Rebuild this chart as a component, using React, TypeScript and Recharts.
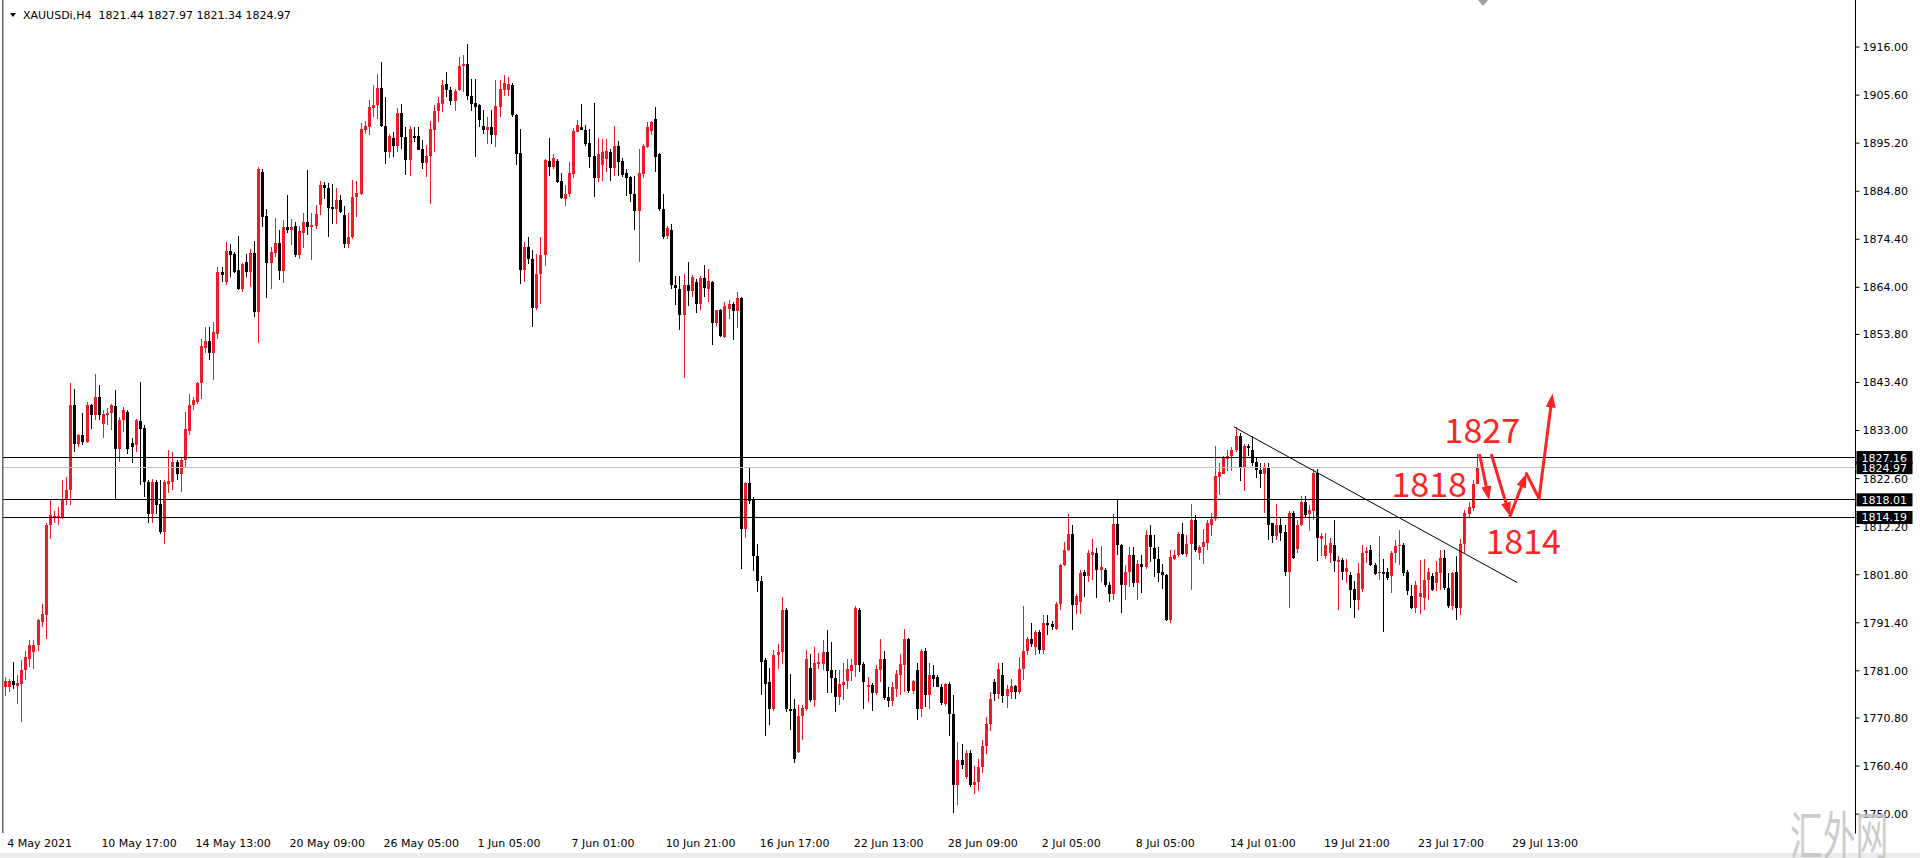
import { Bar, ComposedChart, ReferenceDot, ReferenceLine, XAxis, YAxis } from "recharts";

// XAUUSDi H4 candles (oldest first)
const opens = [
  1777.5, 1777.5, 1778.9, 1777.8, 1778.2, 1781.1, 1783.6, 1785.1, 1786.5, 1791.6,
  1793.0, 1812.5, 1814.4, 1814.2, 1814.3, 1817.9, 1820.1, 1838.5, 1830.2, 1832.1,
  1830.5, 1838.5, 1836.3, 1840.3, 1834.5, 1836.3, 1836.7, 1838.3, 1829.1, 1835.2,
  1837.0, 1830.3, 1829.8, 1835.0, 1833.6, 1821.9, 1815.0, 1821.9, 1817.0, 1811.1,
  1821.5, 1821.9, 1826.2, 1823.7, 1826.6, 1833.0, 1838.5, 1839.2, 1843.2, 1850.8,
  1852.4, 1849.7, 1854.0, 1867.4, 1865.2, 1871.8, 1871.3, 1867.7, 1863.7, 1869.5,
  1867.4, 1871.5, 1858.6, 1889.0, 1879.4, 1869.2, 1871.5, 1873.6, 1867.6, 1877.1,
  1876.4, 1877.2, 1871.0, 1875.8, 1878.2, 1877.0, 1877.2, 1881.8, 1886.1, 1885.6,
  1881.4, 1880.9, 1883.0, 1879.6, 1873.3, 1874.8, 1883.5, 1884.2, 1898.0, 1898.7,
  1902.9, 1903.4, 1907.2, 1899.0, 1893.3, 1896.4, 1894.5, 1901.7, 1896.5, 1891.6,
  1896.7, 1896.7, 1894.0, 1890.9, 1892.5, 1898.1, 1902.1, 1903.7, 1907.9, 1906.8,
  1904.3, 1906.8, 1911.8, 1912.3, 1905.5, 1903.9, 1903.4, 1899.0, 1898.1, 1898.7,
  1896.9, 1903.0, 1906.8, 1906.8, 1907.7, 1901.4, 1893.0, 1867.8, 1872.7, 1870.2,
  1859.6, 1866.9, 1870.9, 1891.4, 1890.1, 1891.4, 1887.1, 1883.2, 1884.1, 1888.5,
  1897.7, 1898.6, 1898.1, 1895.3, 1892.5, 1887.6, 1890.4, 1891.8, 1893.2, 1889.9,
  1894.6, 1891.4, 1888.8, 1887.9, 1884.3, 1880.6, 1888.5, 1894.4, 1897.9, 1900.5,
  1892.8, 1881.0, 1875.1, 1876.3, 1864.6, 1863.7, 1858.0, 1864.6, 1863.2, 1865.1,
  1860.4, 1866.0, 1863.7, 1865.1, 1856.3, 1859.0, 1853.3, 1859.4, 1860.4, 1858.8,
  1861.6, 1811.6, 1821.6, 1818.1, 1805.9, 1800.5, 1783.3, 1778.6, 1772.8, 1784.4,
  1785.1, 1794.1, 1772.8, 1772.8, 1763.4, 1771.2, 1772.8, 1781.7, 1774.7, 1782.4,
  1782.5, 1785.1, 1781.1, 1779.5, 1775.3, 1777.9, 1778.9, 1781.0, 1782.2, 1794.1,
  1782.5, 1777.4, 1777.9, 1776.2, 1781.1, 1783.5, 1775.3, 1774.5, 1777.1, 1780.2,
  1782.2, 1788.0, 1776.6, 1781.1, 1772.8, 1785.4, 1775.7, 1780.0, 1779.7, 1777.5,
  1773.9, 1778.1, 1771.7, 1756.2, 1761.6, 1758.0, 1763.2, 1756.4, 1756.9, 1760.2,
  1764.8, 1769.5, 1778.6, 1776.0, 1780.0, 1775.5, 1776.5, 1777.7, 1776.5, 1781.5,
  1785.4, 1787.8, 1786.2, 1789.4, 1785.6, 1791.4, 1791.1, 1790.1, 1795.4, 1803.8,
  1807.2, 1810.7, 1795.2, 1795.9, 1802.4, 1801.5, 1806.0, 1806.5, 1802.8, 1802.8,
  1799.5, 1797.7, 1812.7, 1808.2, 1799.5, 1802.4, 1806.0, 1800.0, 1804.2, 1803.5,
  1810.3, 1807.5, 1805.3, 1802.4, 1801.7, 1791.9, 1805.3, 1806.0, 1810.7, 1806.2,
  1808.4, 1813.7, 1806.5, 1807.7, 1808.7, 1812.6, 1813.9, 1822.9, 1823.7, 1826.9,
  1827.4, 1828.9, 1831.9, 1824.9, 1829.6, 1828.9, 1826.1, 1824.4, 1823.7, 1824.9,
  1812.9, 1810.1, 1812.6, 1811.0, 1802.5, 1815.2, 1807.4, 1812.6, 1817.5, 1815.0,
  1815.7, 1823.8, 1809.5, 1805.8, 1806.6, 1808.3, 1804.5, 1804.9, 1802.3, 1801.8,
  1798.7, 1796.4, 1798.7, 1806.5, 1807.1, 1803.8, 1802.2, 1802.3, 1802.5, 1801.5,
  1806.4, 1808.0, 1808.3, 1802.5, 1797.1, 1794.6, 1796.9, 1796.8, 1800.6, 1801.6,
  1800.0, 1802.2, 1805.4, 1798.9, 1795.0, 1802.5, 1794.6, 1808.5, 1815.0, 1816.2,
  1821.44,
];

const highs = [
  1779.6, 1779.3, 1783.0, 1780.0, 1783.3, 1785.4, 1787.6, 1787.6, 1792.3, 1795.5,
  1812.9, 1817.9, 1815.7, 1816.5, 1822.2, 1822.9, 1843.2, 1842.1, 1832.3, 1836.7,
  1839.2, 1838.8, 1845.3, 1842.8, 1837.4, 1837.8, 1838.8, 1841.7, 1835.9, 1838.1,
  1837.4, 1831.3, 1835.6, 1843.5, 1834.1, 1822.2, 1822.6, 1822.2, 1822.2, 1822.2,
  1828.7, 1828.4, 1826.6, 1827.3, 1837.0, 1841.0, 1840.3, 1843.5, 1852.9, 1855.4,
  1855.4, 1856.5, 1868.4, 1868.4, 1873.9, 1873.3, 1871.7, 1875.1, 1869.3, 1871.3,
  1872.4, 1874.1, 1890.1, 1889.7, 1880.9, 1872.8, 1879.1, 1876.4, 1878.5, 1884.0,
  1878.7, 1878.2, 1877.2, 1880.0, 1889.4, 1880.0, 1881.8, 1887.0, 1886.8, 1886.5,
  1886.3, 1885.4, 1884.0, 1881.6, 1880.1, 1887.2, 1887.1, 1899.5, 1900.1, 1904.5,
  1907.7, 1910.2, 1912.8, 1905.2, 1897.2, 1897.6, 1902.7, 1903.7, 1898.8, 1899.0,
  1898.8, 1898.8, 1895.8, 1894.9, 1900.1, 1903.4, 1905.2, 1908.9, 1910.6, 1907.3,
  1907.0, 1913.8, 1914.2, 1916.7, 1909.1, 1909.1, 1903.7, 1902.3, 1900.8, 1902.3,
  1908.8, 1908.8, 1909.9, 1909.5, 1908.2, 1901.6, 1898.3, 1873.8, 1874.9, 1872.0,
  1871.3, 1874.9, 1891.8, 1896.3, 1892.8, 1891.8, 1888.8, 1886.2, 1891.1, 1898.4,
  1900.3, 1903.6, 1899.1, 1898.2, 1903.8, 1896.3, 1896.0, 1896.0, 1893.9, 1898.9,
  1895.6, 1892.0, 1889.5, 1888.1, 1888.1, 1893.9, 1895.1, 1899.8, 1900.1, 1903.1,
  1893.0, 1884.3, 1877.3, 1877.7, 1866.5, 1866.5, 1866.9, 1869.5, 1866.7, 1865.7,
  1866.5, 1868.8, 1867.9, 1865.4, 1859.2, 1859.4, 1860.8, 1861.3, 1860.8, 1862.9,
  1861.8, 1821.9, 1825.2, 1818.6, 1808.5, 1801.5, 1783.8, 1781.7, 1785.6, 1786.9,
  1797.0, 1794.7, 1780.4, 1775.0, 1773.7, 1773.7, 1785.6, 1784.7, 1786.2, 1784.9,
  1787.6, 1789.9, 1787.2, 1781.1, 1781.1, 1782.7, 1783.6, 1783.6, 1795.0, 1794.7,
  1783.0, 1779.7, 1778.4, 1782.2, 1787.8, 1785.3, 1777.5, 1778.6, 1781.1, 1784.7,
  1790.1, 1788.2, 1779.1, 1782.7, 1785.8, 1786.0, 1782.7, 1782.2, 1780.0, 1778.2,
  1778.4, 1778.6, 1775.7, 1765.6, 1765.2, 1763.8, 1763.8, 1760.5, 1762.0, 1766.0,
  1771.0, 1776.5, 1779.2, 1782.7, 1782.7, 1778.0, 1779.2, 1778.0, 1784.0, 1795.0,
  1788.3, 1791.4, 1789.8, 1789.8, 1793.0, 1793.0, 1791.8, 1795.9, 1804.2, 1808.9,
  1814.9, 1812.5, 1797.7, 1802.8, 1802.8, 1807.2, 1809.6, 1807.5, 1808.0, 1803.3,
  1800.2, 1814.9, 1818.1, 1808.5, 1803.9, 1807.8, 1807.8, 1804.9, 1806.0, 1811.4,
  1812.5, 1810.3, 1807.8, 1804.2, 1802.0, 1807.1, 1807.2, 1811.1, 1812.9, 1810.3,
  1817.1, 1814.7, 1808.2, 1811.6, 1813.7, 1815.2, 1829.6, 1826.0, 1827.6, 1828.9,
  1829.5, 1833.8, 1832.5, 1830.0, 1830.0, 1831.9, 1827.1, 1826.0, 1826.0, 1826.0,
  1813.1, 1817.0, 1814.4, 1812.6, 1815.5, 1815.5, 1813.7, 1818.8, 1818.9, 1816.8,
  1824.7, 1824.6, 1810.8, 1810.8, 1809.8, 1813.6, 1805.8, 1805.4, 1805.1, 1802.5,
  1800.4, 1804.3, 1808.3, 1807.9, 1808.3, 1804.3, 1810.1, 1805.1, 1803.2, 1806.9,
  1809.4, 1811.4, 1808.7, 1802.9, 1799.6, 1800.4, 1804.9, 1805.1, 1803.2, 1802.2,
  1804.7, 1807.2, 1807.2, 1802.2, 1802.5, 1805.8, 1809.5, 1815.9, 1817.5, 1822.4,
  1827.97,
];

const lows = [
  1775.5, 1776.4, 1777.1, 1773.9, 1769.9, 1779.0, 1781.8, 1781.4, 1785.4, 1790.5,
  1788.0, 1809.6, 1812.9, 1812.5, 1813.9, 1816.8, 1816.8, 1828.4, 1829.5, 1829.8,
  1830.3, 1833.4, 1835.2, 1835.2, 1831.3, 1834.1, 1833.1, 1817.9, 1826.2, 1832.7,
  1828.0, 1825.9, 1828.4, 1821.2, 1818.6, 1812.9, 1812.9, 1815.0, 1810.7, 1808.5,
  1819.4, 1820.1, 1822.2, 1819.7, 1824.8, 1832.0, 1837.4, 1838.8, 1839.9, 1849.7,
  1848.2, 1843.9, 1852.9, 1865.2, 1864.5, 1866.3, 1867.0, 1863.4, 1863.0, 1866.3,
  1864.1, 1857.6, 1852.0, 1877.1, 1861.7, 1863.7, 1870.6, 1865.6, 1865.0, 1875.8,
  1873.1, 1870.6, 1870.2, 1872.6, 1875.3, 1870.0, 1876.7, 1879.6, 1883.2, 1874.9,
  1877.8, 1877.8, 1880.1, 1872.6, 1872.6, 1874.4, 1879.3, 1884.0, 1897.2, 1896.9,
  1900.8, 1900.5, 1898.7, 1890.6, 1892.0, 1892.2, 1893.3, 1894.0, 1888.2, 1888.0,
  1895.4, 1893.8, 1889.6, 1887.9, 1882.1, 1893.3, 1899.8, 1901.9, 1905.2, 1903.4,
  1902.1, 1906.5, 1906.3, 1904.5, 1902.1, 1892.2, 1898.7, 1897.2, 1895.1, 1895.1,
  1894.4, 1900.8, 1905.5, 1905.5, 1900.8, 1890.4, 1864.8, 1865.1, 1869.1, 1855.4,
  1859.0, 1860.4, 1868.7, 1888.1, 1889.5, 1886.6, 1883.2, 1881.5, 1883.6, 1887.6,
  1897.6, 1898.0, 1894.6, 1889.8, 1883.6, 1886.7, 1887.1, 1889.0, 1887.1, 1888.1,
  1888.1, 1887.9, 1883.8, 1882.4, 1876.3, 1869.5, 1887.6, 1894.2, 1897.0, 1889.0,
  1880.6, 1874.5, 1874.5, 1863.7, 1860.1, 1854.7, 1844.4, 1859.9, 1861.8, 1858.5,
  1859.0, 1861.8, 1860.9, 1851.5, 1855.7, 1853.3, 1853.1, 1857.1, 1852.6, 1855.2,
  1803.1, 1809.7, 1817.2, 1802.6, 1798.0, 1775.7, 1767.0, 1769.2, 1772.4, 1781.3,
  1782.5, 1772.1, 1768.1, 1761.0, 1763.2, 1766.0, 1772.4, 1774.2, 1773.2, 1781.5,
  1781.1, 1776.1, 1776.1, 1772.1, 1773.7, 1774.7, 1777.1, 1778.9, 1779.7, 1780.7,
  1772.8, 1774.2, 1772.4, 1775.7, 1778.6, 1774.6, 1773.2, 1773.3, 1775.3, 1775.7,
  1776.4, 1776.1, 1776.0, 1770.4, 1771.0, 1773.2, 1772.8, 1777.5, 1777.4, 1773.7,
  1773.5, 1767.0, 1750.2, 1751.9, 1759.8, 1757.5, 1755.8, 1754.4, 1755.0, 1758.8,
  1763.0, 1768.0, 1774.5, 1775.0, 1774.0, 1773.0, 1775.0, 1774.8, 1776.0, 1779.0,
  1784.5, 1786.2, 1784.4, 1784.7, 1784.6, 1788.7, 1789.8, 1789.8, 1794.1, 1803.6,
  1806.9, 1789.8, 1793.4, 1793.4, 1797.0, 1800.2, 1800.6, 1796.8, 1800.2, 1799.2,
  1795.9, 1796.3, 1806.0, 1793.5, 1796.3, 1799.2, 1799.2, 1796.3, 1797.9, 1803.1,
  1804.6, 1801.3, 1800.2, 1798.8, 1791.8, 1791.4, 1804.9, 1805.7, 1806.0, 1805.7,
  1798.4, 1806.7, 1804.9, 1804.2, 1807.2, 1810.1, 1813.4, 1819.1, 1823.5, 1824.2,
  1824.2, 1828.3, 1822.0, 1819.9, 1827.4, 1825.3, 1822.7, 1820.6, 1815.2, 1809.4,
  1808.7, 1809.4, 1809.0, 1801.5, 1794.6, 1805.1, 1806.5, 1812.3, 1814.4, 1811.2,
  1813.7, 1804.7, 1805.8, 1805.1, 1804.3, 1802.5, 1794.2, 1800.7, 1800.0, 1794.6,
  1792.4, 1794.2, 1798.0, 1804.3, 1803.6, 1801.8, 1800.7, 1789.3, 1800.7, 1797.8,
  1804.3, 1804.0, 1801.5, 1797.5, 1794.4, 1793.5, 1793.4, 1794.2, 1796.4, 1798.2,
  1798.2, 1798.6, 1798.6, 1794.6, 1794.2, 1792.1, 1793.0, 1806.5, 1814.0, 1815.5,
  1821.34,
];

const closes = [
  1778.7, 1778.9, 1777.9, 1778.3, 1781.1, 1784.0, 1786.5, 1786.5, 1791.9, 1793.2,
  1812.5, 1814.7, 1814.5, 1814.5, 1817.9, 1820.1, 1838.5, 1830.2, 1832.0, 1830.5,
  1838.5, 1836.3, 1840.3, 1836.3, 1836.5, 1836.8, 1838.5, 1829.1, 1835.2, 1837.4,
  1829.1, 1829.5, 1835.2, 1833.4, 1821.9, 1815.0, 1821.9, 1816.8, 1811.1, 1821.9,
  1822.0, 1826.3, 1823.7, 1826.6, 1833.3, 1838.5, 1839.6, 1843.2, 1851.2, 1852.4,
  1849.7, 1854.4, 1867.4, 1866.6, 1871.8, 1871.0, 1867.4, 1863.7, 1869.0, 1867.4,
  1871.5, 1858.6, 1889.5, 1879.3, 1869.2, 1871.7, 1873.6, 1867.6, 1877.1, 1876.4,
  1877.1, 1871.0, 1876.1, 1878.2, 1877.0, 1877.5, 1879.8, 1886.1, 1885.4, 1881.1,
  1880.9, 1883.0, 1880.4, 1873.3, 1874.9, 1883.6, 1884.5, 1898.2, 1899.0, 1903.0,
  1903.4, 1907.2, 1899.0, 1893.3, 1896.7, 1894.5, 1901.7, 1896.5, 1891.6, 1898.3,
  1896.4, 1893.8, 1890.9, 1892.5, 1898.3, 1902.1, 1903.9, 1907.7, 1906.8, 1904.3,
  1906.5, 1912.0, 1912.4, 1905.5, 1903.7, 1903.0, 1900.3, 1898.0, 1898.7, 1896.9,
  1903.2, 1907.0, 1908.2, 1908.1, 1901.2, 1892.9, 1867.8, 1872.7, 1870.2, 1859.6,
  1866.9, 1870.9, 1891.5, 1890.1, 1892.0, 1886.9, 1883.4, 1884.3, 1888.8, 1897.9,
  1899.1, 1898.0, 1895.1, 1892.3, 1887.6, 1892.8, 1893.2, 1893.5, 1889.8, 1894.6,
  1891.1, 1888.3, 1887.6, 1884.1, 1880.6, 1888.8, 1894.6, 1898.6, 1899.8, 1892.3,
  1881.0, 1874.9, 1876.8, 1864.6, 1863.8, 1858.0, 1864.4, 1863.2, 1866.3, 1860.4,
  1866.0, 1863.8, 1865.4, 1856.3, 1859.0, 1853.5, 1859.9, 1860.4, 1858.8, 1861.6,
  1811.7, 1821.6, 1817.7, 1805.9, 1800.5, 1782.9, 1778.2, 1772.8, 1784.4, 1785.1,
  1794.1, 1772.8, 1772.4, 1762.0, 1771.2, 1773.0, 1783.6, 1774.7, 1782.7, 1782.9,
  1785.1, 1781.0, 1779.5, 1775.3, 1778.2, 1778.6, 1781.5, 1782.2, 1794.5, 1782.2,
  1778.6, 1777.9, 1776.2, 1781.5, 1783.5, 1775.2, 1774.5, 1777.5, 1780.4, 1782.4,
  1788.0, 1776.6, 1778.9, 1772.8, 1785.4, 1775.7, 1780.0, 1779.3, 1777.5, 1774.0,
  1778.1, 1771.7, 1756.2, 1761.6, 1760.7, 1763.2, 1756.2, 1756.9, 1760.2, 1764.8,
  1769.5, 1775.0, 1776.0, 1781.5, 1775.5, 1777.0, 1777.7, 1776.5, 1781.5, 1785.4,
  1787.8, 1786.9, 1789.4, 1785.6, 1791.4, 1790.9, 1790.5, 1795.4, 1803.8, 1807.2,
  1810.7, 1795.2, 1797.1, 1802.2, 1801.5, 1806.5, 1806.7, 1802.8, 1803.5, 1799.5,
  1797.7, 1812.7, 1808.2, 1799.5, 1802.4, 1806.0, 1800.0, 1804.2, 1803.5, 1810.3,
  1807.8, 1805.3, 1802.2, 1801.7, 1791.9, 1805.7, 1806.0, 1810.7, 1806.2, 1808.4,
  1813.7, 1807.1, 1807.7, 1808.9, 1812.9, 1813.9, 1823.1, 1824.0, 1827.3, 1827.6,
  1828.9, 1831.9, 1824.9, 1829.6, 1829.2, 1826.0, 1824.4, 1823.7, 1824.9, 1812.6,
  1810.1, 1812.6, 1810.8, 1802.5, 1815.2, 1805.4, 1812.6, 1817.5, 1814.8, 1815.9,
  1823.8, 1809.8, 1810.1, 1808.3, 1808.7, 1804.7, 1804.9, 1802.3, 1803.3, 1798.6,
  1796.4, 1802.2, 1806.6, 1806.9, 1803.8, 1802.0, 1802.3, 1802.0, 1801.1, 1806.5,
  1808.0, 1808.3, 1802.2, 1798.2, 1794.6, 1799.6, 1797.8, 1800.6, 1802.5, 1798.6,
  1802.5, 1805.4, 1798.9, 1795.0, 1802.2, 1794.6, 1808.5, 1815.2, 1816.4, 1821.5,
  1824.97,
];

// bar slots on the time axis (candles + empty chart shift on the right)
const SLOTS = 453;
const dateTicks = [0, 23, 46, 69, 92, 115, 138, 161, 184, 207, 230, 253, 276, 299, 322, 345, 368];
const dateLabels = [
  "4 May 2021", "10 May 17:00", "14 May 13:00", "20 May 09:00", "26 May 05:00", "1 Jun 05:00",
  "7 Jun 01:00", "10 Jun 21:00", "16 Jun 17:00", "22 Jun 13:00", "28 Jun 09:00", "2 Jul 05:00",
  "8 Jul 05:00", "14 Jul 01:00", "19 Jul 21:00", "23 Jul 17:00", "29 Jul 13:00",
];
const priceTicks = [
  1916.0, 1905.6, 1895.2, 1884.8, 1874.4, 1864.0, 1853.8, 1843.4, 1833.0,
  1822.6, 1812.2, 1801.8, 1791.4, 1781.0, 1770.8, 1760.4, 1750.0,
];

const levels = [1827.16, 1818.01, 1814.19];
const bidPrice = 1824.97;

// drawn objects, in (bar, price) coordinates
const trendLine = [{ x: 300.5, y: 1833.79 }, { x: 369.8, y: 1800.09 }];
const arrowDown = [{ x: 360.6, y: 1827.66 }, { x: 362.9, y: 1817.91 }];
const zigzag = [
  { x: 363.5, y: 1827.66 },
  { x: 368.0, y: 1814.45 },
  { x: 372.0, y: 1823.7 },
  { x: 375.1, y: 1818.29 },
  { x: 378.4, y: 1841.02 },
];
const zigzagHeads = [true, true, false, true];
const notes = [
  { text: "1827", x: 352, y: 1830.26 },
  { text: "1818", x: 339, y: 1818.67 },
  { text: "1814", x: 362, y: 1806.37 },
];

const RED = "#ee1c24";
const NOTE_RED = "#ff2424";
const FONT = "DejaVu Sans";
const DATE_BASELINE = 847;

function Candle(props: any) {
  const { x, y, width, height, payload } = props;
  if (!payload || payload.o == null || !height) return null;
  const { o, h, l, c } = payload;
  const k = height / (h - l);
  const color = c >= o ? RED : "#000";
  const cx = Math.floor(x + width / 2);
  const top = Math.round(y + (h - Math.max(o, c)) * k);
  const bot = Math.round(y + (h - Math.min(o, c)) * k);
  const wt = Math.round(y);
  const wb = Math.round(y + height);
  return (
    <g shapeRendering="crispEdges">
      <rect x={cx} y={wt} width={1} height={Math.max(1, wb - wt)} fill={color} />
      <rect x={cx - 1} y={top} width={3} height={Math.max(1, bot - top)} fill={color} />
    </g>
  );
}

function DateTick(props: any) {
  const { x, payload } = props;
  const k = dateTicks.indexOf(payload.value);
  if (k < 0) return null;
  return (
    <text x={x + 2} y={DATE_BASELINE} fill="#000" fontSize={11} fontFamily={FONT}>
      {dateLabels[k]}
    </text>
  );
}

function PriceTag(props: any) {
  const vb = props.viewBox || {};
  const right = (vb.x ?? 0) + (vb.width ?? 0);
  const cy = vb.y ?? 0;
  return (
    <g>
      <rect x={right + 1} y={cy - 6.5} width={56} height={13} fill="#000" />
      <text x={right + 6} y={cy + 4} fill="#fff" fontSize={11} fontFamily={FONT}>
        {props.value.toFixed(2)}
      </text>
    </g>
  );
}

function arrowShape(head: boolean, color: string, w: number) {
  return (p: any) => {
    const { x1, y1, x2, y2 } = p;
    const dx = x2 - x1;
    const dy = y2 - y1;
    const len = Math.hypot(dx, dy) || 1;
    const ux = dx / len;
    const uy = dy / len;
    const hl = 14;
    const hw = 5;
    const bx = x2 - ux * hl;
    const by = y2 - uy * hl;
    const pts = `${x2},${y2} ${bx - uy * hw},${by + ux * hw} ${bx + uy * hw},${by - ux * hw}`;
    return (
      <g>
        <line x1={x1} y1={y1} x2={head ? x2 - ux * 6 : x2} y2={head ? y2 - uy * 6 : y2} stroke={color} strokeWidth={w} strokeLinecap="round" />
        {head && <polygon points={pts} fill={color} />}
      </g>
    );
  };
}

export default function App() {
  const rows = Array.from({ length: SLOTS }, (_, i) =>
    i < opens.length
      ? { i, o: opens[i], h: highs[i], l: lows[i], c: closes[i], range: [lows[i], highs[i]] }
      : { i, range: null }
  );
  const last = opens.length - 1;
  const header = `XAUUSDi,H4  ${opens[last].toFixed(2)} ${highs[last].toFixed(2)} ${lows[last].toFixed(2)} ${closes[last].toFixed(2)}`;

  return (
    <div style={{ position: "relative", width: 1920, height: 858, background: "#fff", overflow: "hidden" }}>
      <style>{"body{margin:0}"}</style>
      <svg width={1920} height={858} style={{ position: "absolute", left: 0, top: 0 }}>
        <rect x={0} y={853} width={1920} height={5} fill="#ececec" />
      </svg>
      <ComposedChart
        width={1920}
        height={858}
        data={rows}
        margin={{ top: 0, right: 0, bottom: 0, left: 3.3 }}
        barCategoryGap={0}
        barGap={0}
      >
        <XAxis dataKey="i" hide />
        <XAxis
          xAxisId="n"
          type="number"
          dataKey="i"
          domain={[-0.5, SLOTS - 0.5]}
          allowDataOverflow
          ticks={dateTicks}
          interval={0}
          height={24.5}
          tickSize={4}
          tickMargin={2}
          axisLine={{ stroke: "#000" }}
          tickLine={{ stroke: "#000" }}
          tick={<DateTick />}
        />
        <YAxis
          orientation="right"
          width={64.5}
          domain={[1745.8, 1926.18]}
          allowDataOverflow
          ticks={priceTicks}
          interval={0}
          tickSize={4}
          tickMargin={3}
          axisLine={{ stroke: "#000" }}
          tickLine={{ stroke: "#000" }}
          tick={{ fill: "#000", fontSize: 11, fontFamily: FONT }}
          tickFormatter={(v: number) => v.toFixed(2)}
        />
        <Bar dataKey={(d: any) => d.range} shape={(p: any) => <Candle {...p} />} isAnimationActive={false} />

        <ReferenceLine y={bidPrice} stroke="#c0c0c0" shapeRendering="crispEdges" label={<PriceTag value={bidPrice} />} />
        {levels.map((v) => (
          <ReferenceLine key={v} y={v} stroke="#000" shapeRendering="crispEdges" label={<PriceTag value={v} />} />
        ))}

        <ReferenceLine xAxisId="n" segment={trendLine} stroke="#000" strokeWidth={1} />
        <ReferenceLine xAxisId="n" segment={arrowDown} shape={arrowShape(true, NOTE_RED, 3)} />
        {zigzag.slice(1).map((pt, k) => (
          <ReferenceLine
            key={k}
            xAxisId="n"
            segment={[zigzag[k], pt]}
            shape={arrowShape(zigzagHeads[k], NOTE_RED, 3)}
          />
        ))}
        {notes.map((n) => (
          <ReferenceDot
            key={n.text}
            xAxisId="n"
            x={n.x}
            y={n.y}
            r={0}
            shape={(p: any) => (
              <text x={p.cx} y={p.cy} fill={NOTE_RED} fontSize={34} fontFamily="Noto Sans CJK SC">
                {n.text}
              </text>
            )}
          />
        ))}
      </ComposedChart>

      <svg width={1920} height={858} style={{ position: "absolute", left: 0, top: 0, pointerEvents: "none" }}>
        <rect x={2} y={0} width={1.5} height={833} fill="#666" />
        <polygon points="10,13 16,13 13,17" fill="#000" />
        <text x={23} y={19} fontSize={11} fontFamily={FONT} fill="#000" style={{ whiteSpace: "pre" }}>
          {header}
        </text>
        <polygon points="1478,0 1488,0 1483,6" fill="#a0a0a0" />
        <text
          transform="translate(1790, 855) scale(0.63, 1)"
          fontSize={52}
          fontFamily="Noto Sans CJK SC"
          fill="#c4c4c4"
          opacity={0.85}
        >
          汇外网
        </text>
      </svg>
    </div>
  );
}
